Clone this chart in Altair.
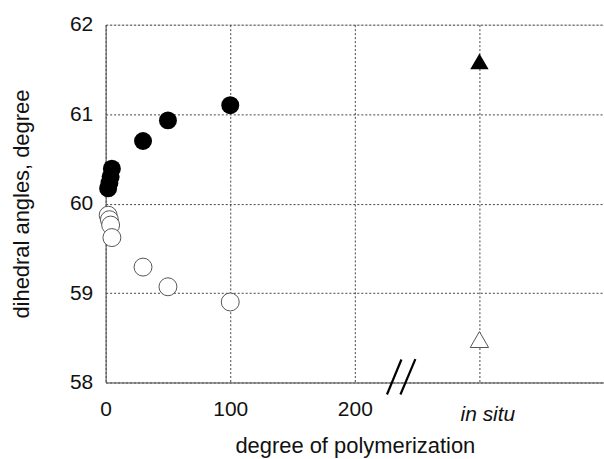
import altair as alt
import pandas as pd

# degree of polymerization (the "in situ" sample is placed at the 300 slot)
dp = [2, 3, 4, 5, 30, 50, 100]
filled_angle = [60.17, 60.23, 60.30, 60.39, 60.70, 60.93, 61.10]
open_angle = [59.87, 59.82, 59.76, 59.62, 59.29, 59.07, 58.90]
insitu_x = [300]
insitu_filled = [61.59]
insitu_open = [58.48]

x_ticks = [0, 100, 200, 300]
y_ticks = [58, 59, 60, 61, 62]

# axis break marks (data units)
brk_x = [225.8, 236.6]
brk_x2 = [237.4, 248.6]
brk_y = [57.866, 57.866]
brk_y2 = [58.257, 58.262]

FONT = "Liberation Sans"
W, H = 500, 359

df_f = pd.DataFrame({"x": dp, "y": filled_angle})
df_o = pd.DataFrame({"x": dp, "y": open_angle})
df_tf = pd.DataFrame({"x": insitu_x, "y": insitu_filled})
df_to = pd.DataFrame({"x": insitu_x, "y": insitu_open})
df_b = pd.DataFrame({"x": brk_x, "x2": brk_x2, "y": brk_y, "y2": brk_y2})

xs = alt.Scale(domain=[0, 400], nice=False, zero=False)
ys = alt.Scale(domain=[58, 62], nice=False, zero=False)

xaxis = alt.Axis(
    values=x_ticks,
    labelExpr="datum.value == 300 ? 'in situ' : datum.label",
    labelFontStyle=alt.expr("datum.value == 300 ? 'italic' : 'normal'"),
    labelBaseline=alt.expr("datum.value == 300 ? 'line-top' : 'top'"),
    labelOffset=alt.expr("datum.value == 300 ? 8 : 0"),
    labelLineHeight=31,
    labelPadding=16,
    labelFontSize=21,
    labelFlush=False,
    labelColor="#111",
    labelFont=FONT,
    ticks=False,
    tickSize=0,
    grid=True,
    gridDash=[2, 2],
    gridColor="#444",
    gridWidth=1,
    domainColor="#555",
    title="degree of polymerization",
    titleFont=FONT,
    titleFontSize=22,
    titleFontWeight="normal",
    titleColor="#111",
    titleY=70,
    titleBaseline="alphabetic",
)
yaxis = alt.Axis(
    values=y_ticks,
    format="d",
    labelPadding=13,
    labelFontSize=21,
    labelFlush=False,
    labelColor="#111",
    labelFont=FONT,
    ticks=False,
    tickSize=0,
    grid=True,
    gridDash=[2, 2],
    gridColor="#444",
    gridWidth=1,
    domainColor="#555",
    title="dihedral angles, degree",
    titleFont=FONT,
    titleFontSize=22,
    titleFontWeight="normal",
    titleColor="#111",
    titleX=-84,
    titleY=H / 2,
    titleAngle=-90,
    titleBaseline="middle",
)

X = alt.X("x:Q", scale=xs, axis=xaxis)
Y = alt.Y("y:Q", scale=ys, axis=yaxis)

base_axes = alt.Chart(df_f).mark_point(opacity=0).encode(x=X, y=Y)

open_pts = alt.Chart(df_o).mark_point(
    shape="circle", size=324, filled=True, fill="white", stroke="#555", strokeWidth=1, opacity=1
).encode(x=alt.X("x:Q", scale=xs), y=alt.Y("y:Q", scale=ys))

filled_pts = alt.Chart(df_f).mark_point(
    shape="circle", size=324, filled=True, color="black", opacity=1
).encode(x=alt.X("x:Q", scale=xs), y=alt.Y("y:Q", scale=ys))

tri_f = alt.Chart(df_tf).mark_point(
    shape="triangle-up", size=340, filled=True, color="black", opacity=1
).encode(x=alt.X("x:Q", scale=xs), y=alt.Y("y:Q", scale=ys))

tri_o = alt.Chart(df_to).mark_point(
    shape="triangle-up", size=340, filled=True, fill="white", stroke="#555", strokeWidth=1, opacity=1
).encode(x=alt.X("x:Q", scale=xs), y=alt.Y("y:Q", scale=ys))

breaks = alt.Chart(df_b).mark_rule(color="black", strokeWidth=2.2, clip=False).encode(
    x=alt.X("x:Q", scale=xs), x2="x2:Q", y=alt.Y("y:Q", scale=ys), y2="y2:Q"
)

chart = (
    alt.layer(base_axes, open_pts, filled_pts, tri_f, tri_o, breaks)
    .properties(
        width=W,
        height=H,
        autosize=alt.AutoSizeParams(type="none"),
        padding={"left": 106, "top": 24, "right": 0, "bottom": 76},
    )
    .configure_view(stroke="#555", strokeWidth=1)
    .configure(background="white")
)

chart.save("out.html", embed_options={"renderer": "svg", "actions": False})
